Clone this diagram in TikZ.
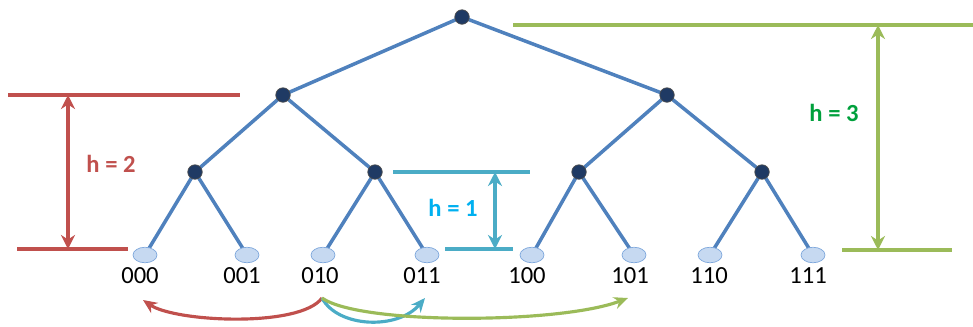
\documentclass[tikz,border=0pt]{standalone}
\usepackage{fontspec}
\setmainfont{Carlito}
\definecolor{treeblue}{HTML}{4F81BD}
\definecolor{navy}{HTML}{1F3A64}
\definecolor{leaffill}{HTML}{C6D9F1}
\definecolor{leafline}{HTML}{7FA8DC}
\definecolor{redbar}{HTML}{C0504D}
\definecolor{aquabar}{HTML}{4BACC6}
\definecolor{aquatext}{HTML}{00B0F0}
\definecolor{olivebar}{HTML}{9BBB59}
\definecolor{greentext}{HTML}{00A03C}
\usepackage{tikz}
\usetikzlibrary{shapes.geometric,arrows.meta,backgrounds}

\begin{document}
\begin{tikzpicture}[x=0.02cm, y=-0.02cm,
    inner/.style={circle, draw=black!70, fill=navy, minimum size=0.29cm, inner sep=0pt},
    leaf/.style={ellipse, draw=leafline, fill=leaffill, minimum width=0.48cm,
                 minimum height=0.31cm, inner sep=0pt},
    edge/.style={draw=treeblue, line width=2pt},
    bits/.style={font=\fontsize{14}{16}\selectfont, anchor=base, inner sep=1pt},
    tag/.style={font=\fontsize{14}{16}\selectfont\bfseries},
    bar/.style={line width=2.1pt},
    span/.style={line width=2.1pt, {Stealth[length=8pt,width=8pt]}-{Stealth[length=8pt,width=8pt]}},
    hop/.style={line width=1.8pt, -{Stealth[length=8pt,width=7pt]}}
  ]
    \useasboundingbox (0,0) rectangle (973,326);

    % tree
    \node[inner] (root) at (462,17)  {};
    \node[inner] (n0)   at (283,95)  {};
    \node[inner] (n1)   at (667,95)  {};
    \node[inner] (n00)  at (195,172) {};
    \node[inner] (n01)  at (375,172) {};
    \node[inner] (n10)  at (579,172) {};
    \node[inner] (n11)  at (762,172) {};
    \node[leaf]  (v000) at (145,255) {};
    \node[leaf]  (v001) at (247,255) {};
    \node[leaf]  (v010) at (323,255) {};
    \node[leaf]  (v011) at (427,255) {};
    \node[leaf]  (v100) at (532,255) {};
    \node[leaf]  (v101) at (634,255) {};
    \node[leaf]  (v110) at (710,255) {};
    \node[leaf]  (v111) at (813,255) {};

    \begin{scope}[on background layer]
      \path[edge] (root.center) -- (n0.center)  (root.center) -- (n1.center);
      \path[edge] (n0.center) -- (n00.center)   (n0.center) -- (n01.center);
      \path[edge] (n1.center) -- (n10.center)   (n1.center) -- (n11.center);
      \path[edge] (n00.center) -- (v000.center) (n00.center) -- (v001.center);
      \path[edge] (n01.center) -- (v010.center) (n01.center) -- (v011.center);
      \path[edge] (n10.center) -- (v100.center) (n10.center) -- (v101.center);
      \path[edge] (n11.center) -- (v110.center) (n11.center) -- (v111.center);
    \end{scope}

    \node[bits] (l000) at (140,283) {000};
    \node[bits] (l001) at (242,283) {001};
    \node[bits] (l010) at (320,283) {010};
    \node[bits] (l011) at (422,283) {011};
    \node[bits] (l100) at (527,283) {100};
    \node[bits] (l101) at (630,283) {101};
    \node[bits] (l110) at (709,283) {110};
    \node[bits] (l111) at (808,283) {111};

    % heights
    \coordinate (r1) at (8,95);    \coordinate (r2) at (240,95);
    \coordinate (r3) at (17,249);  \coordinate (r4) at (128,249);
    \coordinate (ra) at (68,95);   \coordinate (rb) at (68,249);
    \draw[bar, redbar] (r1) -- (r2);
    \draw[bar, redbar] (r3) -- (r4);
    \draw[span, redbar] (ra) -- (rb);
    \node[tag, text=redbar] (h2) at (111,164) {h = 2};

    \coordinate (c1) at (393,172); \coordinate (c2) at (530,172);
    \coordinate (c3) at (445,249); \coordinate (c4) at (513,249);
    \coordinate (ca) at (495,172); \coordinate (cb) at (495,249);
    \draw[bar, aquabar] (c1) -- (c2);
    \draw[bar, aquabar] (c3) -- (c4);
    \draw[span, aquabar] (ca) -- (cb);
    \node[tag, text=aquatext] (h1) at (453,208) {h = 1};

    \coordinate (g1) at (513,25);  \coordinate (g2) at (973,25);
    \coordinate (g3) at (842,250); \coordinate (g4) at (952,250);
    \coordinate (ga) at (878,25);  \coordinate (gb) at (878,250);
    \draw[bar, olivebar] (g1) -- (g2);
    \draw[bar, olivebar] (g3) -- (g4);
    \draw[span, olivebar] (ga) -- (gb);
    \node[tag, text=greentext] (h3) at (834,113) {h = 3};

    % hops from 010
    \coordinate (s010) at (322,298);
    \coordinate (t000) at (143,300);
    \coordinate (t011) at (425,298);
    \coordinate (t101) at (628,298);
    \draw[hop, redbar]   (s010) .. controls (300,328) and (175,322) .. (t000);
    \draw[hop, aquabar]  (s010) .. controls (338,328) and (398,330) .. (t011);
    \draw[hop, olivebar] (s010) .. controls (360,325) and (560,324) .. (t101);
  \end{tikzpicture}
\end{document}
